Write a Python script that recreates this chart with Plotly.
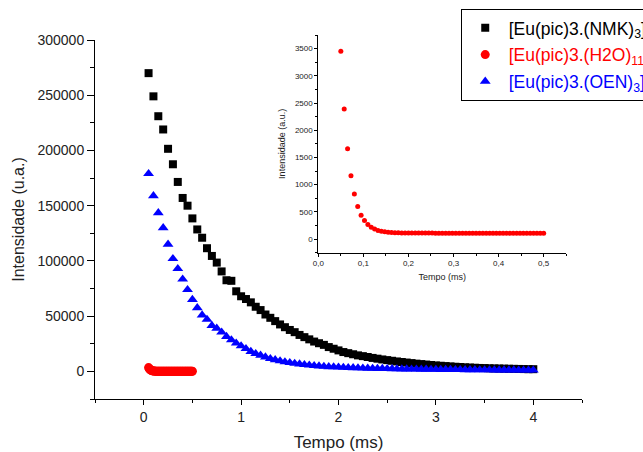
import plotly.graph_objects as go

# ---------------- data ----------------
t_main = [0.05, 0.10, 0.15, 0.20, 0.25, 0.30, 0.35, 0.40, 0.45, 0.50,
          0.55, 0.60, 0.65, 0.70, 0.75, 0.80, 0.85, 0.90, 0.95, 1.00,
          1.05, 1.10, 1.15, 1.20, 1.25, 1.30, 1.35, 1.40, 1.45, 1.50,
          1.55, 1.60, 1.65, 1.70, 1.75, 1.80, 1.85, 1.90, 1.95, 2.00,
          2.05, 2.10, 2.15, 2.20, 2.25, 2.30, 2.35, 2.40, 2.45, 2.50,
          2.55, 2.60, 2.65, 2.70, 2.75, 2.80, 2.85, 2.90, 2.95, 3.00,
          3.05, 3.10, 3.15, 3.20, 3.25, 3.30, 3.35, 3.40, 3.45, 3.50,
          3.55, 3.60, 3.65, 3.70, 3.75, 3.80, 3.85, 3.90, 3.95, 4.00]

nmk = [270000, 249000, 231000, 219000, 201500, 187500, 171500, 157000, 150000, 138500,
       128500, 121000, 111500, 104500, 98500, 90500, 82500, 82000, 72500, 68000,
       65500, 62500, 58500, 55500, 51500, 48500, 45500, 42500, 40000, 37500,
       35500, 33000, 31000, 29000, 27000, 25500, 24000, 22000, 20500, 19000,
       17500, 16500, 15500, 14500, 13800, 13000, 12200, 11500, 10800, 10200,
       9600, 9000, 8500, 8000, 7500, 7000, 6600, 6200, 5800, 5400,
       5100, 4800, 4500, 4200, 4000, 3700, 3500, 3300, 3100, 3000,
       2800, 2700, 2600, 2500, 2400, 2300, 2200, 2100, 2000, 2000]

oen = [179000, 159000, 143500, 130000, 115000, 102000, 93000, 83500, 74000, 65000,
       57500, 51000, 47000, 41500, 39000, 35500, 31500, 28500, 25500, 23000,
       20500, 18000, 16000, 14500, 13000, 11500, 10500, 9500, 8600, 7900,
       7200, 6600, 6100, 5600, 5200, 4800, 4500, 4200, 4000, 3800,
       3600, 3400, 3250, 3100, 2950, 2800, 2700, 2600, 2500, 2400,
       2300, 2200, 2150, 2100, 2000, 1950, 1900, 1850, 1800, 1750,
       1700, 1650, 1600, 1550, 1500, 1450, 1400, 1380, 1350, 1300,
       1280, 1250, 1220, 1200, 1180, 1150, 1120, 1100, 1080, 1050]

t_h2o = [0.0500, 0.0575, 0.0650, 0.0725, 0.0800, 0.0875, 0.0950, 0.1025, 0.1100, 0.1175,
         0.1250, 0.1325, 0.1400, 0.1475, 0.1550, 0.1625, 0.1700, 0.1775, 0.1850, 0.1925,
         0.2000, 0.2075, 0.2150, 0.2225, 0.2300, 0.2375, 0.2450, 0.2525, 0.2600, 0.2675,
         0.2750, 0.2825, 0.2900, 0.2975, 0.3050, 0.3125, 0.3200, 0.3275, 0.3350, 0.3425,
         0.3500, 0.3575, 0.3650, 0.3725, 0.3800, 0.3875, 0.3950, 0.4025, 0.4100, 0.4175,
         0.4250, 0.4325, 0.4400, 0.4475, 0.4550, 0.4625, 0.4700, 0.4775, 0.4850, 0.4925,
         0.5000]

h2o = [3450, 2390, 1660, 1165, 830, 600, 440, 340, 270, 220,
       185, 160, 145, 135, 127, 122, 118, 115, 113, 112,
       111, 111, 110, 110, 110, 110, 110, 110, 109, 109,
       109, 109, 109, 109, 109, 108, 108, 108, 108, 108,
       108, 108, 108, 108, 107, 107, 107, 107, 107, 107,
       107, 107, 107, 107, 107, 106, 106, 106, 106, 106,
       106]

names = ['[Eu(pic)3.(NMK)<sub>3</sub>]',
         '[Eu(pic)3.(H2O)<sub>11</sub>]',
         '[Eu(pic)3.(OEN)<sub>3</sub>]']
colors = ['#000000', '#FF0000', '#0000FF']

main_xticks = [0, 1, 2, 3, 4]
main_yticks = [0, 50000, 100000, 150000, 200000, 250000, 300000]
inset_xticks = [0.0, 0.1, 0.2, 0.3, 0.4, 0.5]
inset_xlabels = ['0,0', '0,1', '0,2', '0,3', '0,4', '0,5']
inset_yticks = [0, 500, 1000, 1500, 2000, 2500, 3000, 3500]

FONT = 'Arial, Liberation Sans, sans-serif'

# ---------------- figure ----------------
fig = go.Figure()

fig.add_trace(go.Scatter(x=t_main, y=nmk, mode='markers', legendgroup='a',
                         name='<span style="color:%s">%s</span>' % (colors[0], names[0]),
                         marker=dict(symbol='square', size=8, color=colors[0])))
fig.add_trace(go.Scatter(x=t_h2o, y=h2o, mode='markers', legendgroup='b',
                         name='<span style="color:%s">%s</span>' % (colors[1], names[1]),
                         marker=dict(symbol='circle', size=9, color=colors[1])))
fig.add_trace(go.Scatter(x=t_main, y=oen, mode='markers', legendgroup='c',
                         name='<span style="color:%s">%s</span>' % (colors[2], names[2]),
                         marker=dict(symbol='triangle-up', size=9.5, color=colors[2])))

# inset
fig.add_trace(go.Scatter(x=t_h2o, y=h2o, mode='markers', showlegend=False,
                         xaxis='x2', yaxis='y2',
                         marker=dict(symbol='circle', size=5, color=colors[1])))

axis_common = dict(showline=True, linecolor='black', linewidth=1, showgrid=False,
                   zeroline=False, ticks='outside', tickcolor='black', tickwidth=1)

fig.update_layout(
    width=643, height=452,
    margin=dict(l=95, r=61, t=35, b=53, autoexpand=False),
    paper_bgcolor='white', plot_bgcolor='white',
    font=dict(family=FONT, color='#222222'),
    xaxis=dict(**axis_common, domain=[0, 1], range=[-0.5, 4.5],
               tickmode='array', tickvals=main_xticks, ticklen=5,
               tickfont=dict(size=14, family=FONT, color='#222222'),
               minor=dict(ticks='outside', ticklen=3, dtick=0.5, tick0=0,
                          tickcolor='black', showgrid=False),
               title=dict(text='Tempo (ms)', font=dict(size=17, family=FONT, color='#222222'),
                          standoff=12)),
    yaxis=dict(**axis_common, domain=[0, 359 / 364], range=[-25000, 300000],
               tickmode='array', tickvals=main_yticks, tickformat='d', ticklen=7,
               tickfont=dict(size=14, family=FONT, color='#222222'),
               minor=dict(ticks='outside', ticklen=4, dtick=25000, tick0=0,
                          tickcolor='black', showgrid=False),
               title=dict(text='Intensidade (u.a.)', font=dict(size=16, family=FONT, color='#222222'),
                          standoff=8)),
    xaxis2=dict(**axis_common, domain=[0.4585, 0.9676], anchor='y2', range=[0, 0.55],
                tickmode='array', tickvals=inset_xticks, ticktext=inset_xlabels, ticklen=3,
                tickfont=dict(size=8, family=FONT, color='#222222'),
                minor=dict(ticks='outside', ticklen=2, dtick=0.05, tick0=0,
                           tickcolor='black', showgrid=False),
                title=dict(text='Tempo (ms)', font=dict(size=9, family=FONT, color='#222222'),
                           standoff=6)),
    yaxis2=dict(**axis_common, domain=[0.4019, 1.0], anchor='x2', range=[-250, 3750],
                tickmode='array', tickvals=inset_yticks, ticklen=3,
                tickfont=dict(size=8, family=FONT, color='#222222'),
                minor=dict(ticks='outside', ticklen=2, dtick=250, tick0=0,
                           tickcolor='black', showgrid=False),
                title=dict(text='Intensidade (a.u.)', font=dict(size=9, family=FONT, color='#222222'),
                           standoff=7)),
    legend=dict(x=0.751, y=1.0715, xanchor='left', yanchor='top',
                bordercolor='black', borderwidth=1, bgcolor='white',
                font=dict(size=17.5, family=FONT), tracegroupgap=1,
                itemsizing='trace', itemwidth=37),
    showlegend=True,
)

fig.write_html('out.html')
